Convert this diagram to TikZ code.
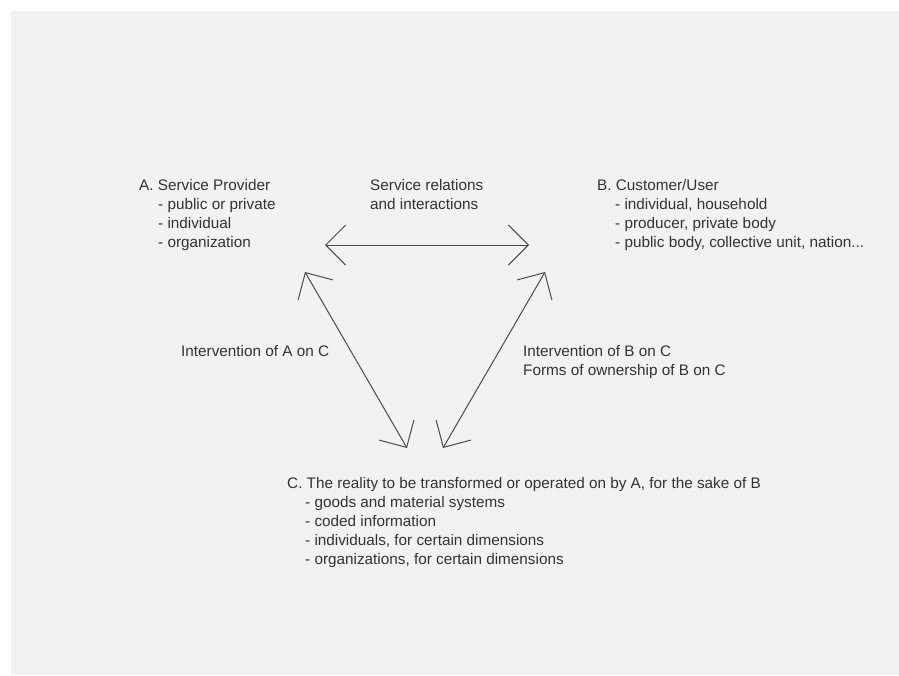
\documentclass[tikz,border=0pt]{standalone}
\usepackage{fontspec}
\setmainfont{Liberation Sans}
\usetikzlibrary{arrows.meta}
\definecolor{paper}{HTML}{F2F2F2}
\definecolor{ink}{HTML}{333333}
\definecolor{wire}{HTML}{4A4A4A}
\begin{document}
\begin{tikzpicture}[x=1pt,y=-1pt,
  label text/.style={anchor=north west,inner sep=0pt,align=left,text=ink,
    font=\fontsize{15.3}{19}\selectfont},
  link/.style={draw=wire,line width=1pt,
    {Straight Barb[length=20pt,width=40pt,line width=1pt]}-{Straight Barb[length=20pt,width=40pt,line width=1pt]}}]
  % canvas
  \useasboundingbox (0,0) rectangle (899,675);
  \fill[paper] (11,11) rectangle (899,675);

  % the three parties
  \node[label text] (A) at (139,179) {A. Service Provider\\
    \hspace{19pt}- public or private\\
    \hspace{19pt}- individual\\
    \hspace{19pt}- organization};
  \node[label text] (B) at (597,179) {B. Customer/User\\
    \hspace{18pt}- individual, household\\
    \hspace{18pt}- producer, private body\\
    \hspace{18pt}- public body, collective unit, nation...};
  \node[label text] (C) at (287,477) {C. The reality to be transformed or operated on by A, for the sake of B\\
    \hspace{18pt}- goods and material systems\\
    \hspace{18pt}- coded information\\
    \hspace{18pt}- individuals, for certain dimensions\\
    \hspace{18pt}- organizations, for certain dimensions};

  % relation labels
  \node[label text] (AB) at (370,179) {Service relations\\and interactions};
  \node[label text] (AC) at (181,345) {Intervention of A on C};
  \node[label text] (BC) at (523,345) {Intervention of B on C\\Forms of ownership of B on C};

  % arrow end points
  \coordinate (abL) at (325,245);
  \coordinate (abR) at (529,245);
  \coordinate (acT) at (305,272);
  \coordinate (acB) at (407,448);
  \coordinate (bcT) at (545,272);
  \coordinate (bcB) at (443,448);

  \draw[link] (abL) -- (abR);
  \draw[link] (acT) -- (acB);
  \draw[link] (bcT) -- (bcB);
\end{tikzpicture}
\end{document}
